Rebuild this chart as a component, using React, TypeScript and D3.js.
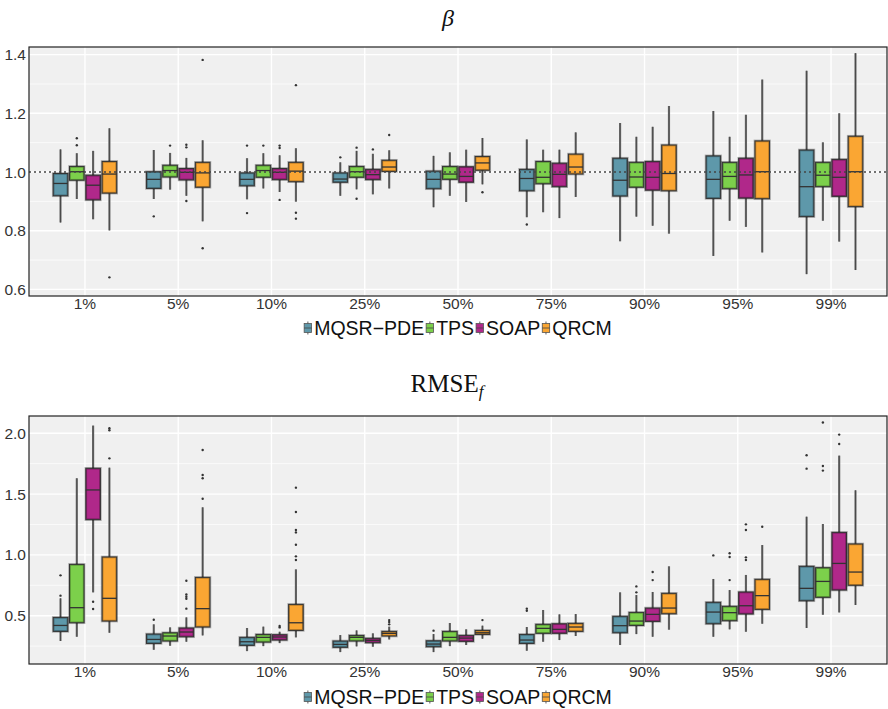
import React, { useEffect, useRef } from 'react';
import * as d3 from 'd3';

const categories = ['1%', '5%', '10%', '25%', '50%', '75%', '90%', '95%', '99%'];
const methods = ['MQSR−PDE', 'TPS', 'SOAP', 'QRCM'];
const colors = ['#5E98AA', '#7CD04B', '#B0288A', '#FAA633'];

// each entry: [lower whisker, Q1, median, Q3, upper whisker]
const betaMQSR = [
  [0.828, 0.919, 0.961, 0.995, 1.077], [0.908, 0.944, 0.975, 1.001, 1.075], [0.907, 0.953, 0.975, 0.997, 1.047],
  [0.919, 0.965, 0.976, 0.997, 1.033], [0.880, 0.943, 0.975, 1.003, 1.055], [0.846, 0.936, 0.978, 1.009, 1.111],
  [0.764, 0.918, 0.972, 1.047, 1.167], [0.714, 0.910, 0.975, 1.055, 1.208], [0.652, 0.848, 0.950, 1.075, 1.345],
];
const betaTPS = [
  [0.908, 0.972, 1.001, 1.019, 1.064], [0.940, 0.983, 1.005, 1.023, 1.065], [0.944, 0.982, 1.005, 1.023, 1.064],
  [0.941, 0.982, 1.001, 1.019, 1.072], [0.919, 0.975, 0.993, 1.019, 1.067], [0.863, 0.960, 0.982, 1.036, 1.076],
  [0.848, 0.948, 0.983, 1.033, 1.120], [0.834, 0.943, 0.985, 1.033, 1.120], [0.834, 0.950, 0.989, 1.033, 1.101],
];
const betaSOAP = [
  [0.839, 0.905, 0.955, 0.989, 1.072], [0.919, 0.973, 0.999, 1.012, 1.048], [0.932, 0.974, 0.999, 1.012, 1.057],
  [0.924, 0.974, 0.991, 1.009, 1.062], [0.898, 0.965, 0.985, 1.018, 1.076], [0.843, 0.950, 0.992, 1.030, 1.076],
  [0.817, 0.938, 0.982, 1.036, 1.154], [0.813, 0.911, 0.990, 1.047, 1.195], [0.763, 0.917, 0.982, 1.043, 1.200],
];
const betaQRCM = [
  [0.801, 0.928, 0.993, 1.036, 1.149], [0.832, 0.948, 0.997, 1.033, 1.108], [0.899, 0.967, 1.003, 1.033, 1.081],
  [0.944, 1.002, 1.017, 1.040, 1.074], [0.958, 1.006, 1.031, 1.053, 1.116], [0.915, 0.993, 1.017, 1.061, 1.135],
  [0.790, 0.936, 0.995, 1.092, 1.225], [0.726, 0.909, 1.001, 1.106, 1.315], [0.666, 0.882, 1.001, 1.122, 1.405],
];
const betaMQSROut = [[], [0.849], [1.090, 0.860], [1.050], [], [0.821], [], [], []];
const betaTPSOut = [[1.115, 1.091], [1.090], [1.090], [1.083, 0.909], [], [], [], [], []];
const betaSOAPOut = [[], [1.093, 1.084, 0.901], [1.090, 1.082, 0.905], [1.077], [], [], [], [], []];
const betaQRCMOut = [[0.641], [1.382, 0.740], [1.296, 0.861, 0.841], [1.126], [0.931], [], [], [], []];

const rmseMQSR = [
  [0.292, 0.371, 0.420, 0.486, 0.643], [0.220, 0.272, 0.305, 0.349, 0.429], [0.209, 0.256, 0.286, 0.322, 0.399],
  [0.201, 0.240, 0.264, 0.292, 0.341], [0.201, 0.245, 0.267, 0.294, 0.349], [0.212, 0.272, 0.300, 0.346, 0.407],
  [0.259, 0.360, 0.418, 0.495, 0.692], [0.327, 0.434, 0.530, 0.610, 0.802], [0.399, 0.623, 0.725, 0.906, 1.314],
];
const rmseTPS = [
  [0.327, 0.442, 0.566, 0.922, 1.630], [0.253, 0.292, 0.333, 0.360, 0.404], [0.250, 0.283, 0.322, 0.346, 0.410],
  [0.248, 0.292, 0.322, 0.338, 0.379], [0.250, 0.292, 0.322, 0.371, 0.440], [0.286, 0.355, 0.396, 0.429, 0.547],
  [0.349, 0.420, 0.456, 0.527, 0.670], [0.388, 0.459, 0.525, 0.577, 0.711], [0.508, 0.651, 0.782, 0.895, 1.254],
];
const rmseSOAP = [
  [0.692, 1.290, 1.534, 1.712, 2.063], [0.286, 0.327, 0.366, 0.399, 0.486], [0.275, 0.300, 0.325, 0.344, 0.368],
  [0.245, 0.278, 0.297, 0.314, 0.355], [0.259, 0.289, 0.316, 0.338, 0.388], [0.300, 0.355, 0.388, 0.434, 0.511],
  [0.327, 0.453, 0.511, 0.563, 0.695], [0.368, 0.514, 0.582, 0.695, 0.835], [0.527, 0.711, 0.930, 1.185, 1.816],
];
const rmseQRCM = [
  [0.360, 0.456, 0.643, 0.983, 1.717], [0.338, 0.407, 0.558, 0.815, 1.391], [0.322, 0.379, 0.442, 0.593, 0.881],
  [0.305, 0.333, 0.355, 0.371, 0.410], [0.311, 0.346, 0.360, 0.379, 0.418], [0.333, 0.371, 0.407, 0.437, 0.514],
  [0.385, 0.516, 0.563, 0.684, 0.906], [0.434, 0.552, 0.665, 0.799, 1.081], [0.588, 0.750, 0.859, 1.090, 1.531],
];
const rmseMQSROut = [[0.832, 0.665], [0.467], [], [], [0.377], [0.558, 0.541], [], [0.996], [1.819, 1.709]];
const rmseTPSOut = [[], [], [], [], [], [], [0.741, 0.692], [1.013, 0.983, 0.793], [2.088, 1.731, 1.693]];
const rmseSOAPOut = [[0.615, 0.555], [0.788, 0.675, 0.656, 0.640, 0.558], [0.415, 0.404], [], [], [], [0.859, 0.793], [1.251, 1.205, 0.980, 0.958], [1.989, 1.912]];
const rmseQRCMOut = [[2.041, 2.025, 1.794], [1.863, 1.657, 1.630, 1.462], [1.553, 1.353, 1.205, 1.185, 1.084, 0.988, 0.958], [0.464, 0.448, 0.429], [0.464], [], [], [1.232], []];

const betaMajor = [0.6, 0.8, 1.0, 1.2, 1.4];
const betaMinor = [0.7, 0.9, 1.1, 1.3];
const betaTickLabels = ['0.6', '0.8', '1.0', '1.2', '1.4'];
const rmseMajor = [0.5, 1.0, 1.5, 2.0];
const rmseMinor = [0.25, 0.75, 1.25, 1.75];
const rmseTickLabels = ['0.5', '1.0', '1.5', '2.0'];

export default function App() {
  const ref = useRef<SVGSVGElement>(null);
  useEffect(() => {
    const svg = d3.select(ref.current);
    svg.selectAll('*').remove();
    const left = 29, right = 887;
    const x = d3.scalePoint<string>().domain(categories).range([left, right]).padding(0.6);
    const dodge = 16.3, bw = 14.6;
    const sans = "'Liberation Sans', Arial, Helvetica, sans-serif";

    function panel(cfg: any) {
      const y = d3.scaleLinear().domain(cfg.domain).range([cfg.bottom, cfg.top]);
      const g = svg.append('g');
      g.append('rect').attr('x', left).attr('y', cfg.top).attr('width', right - left)
        .attr('height', cfg.bottom - cfg.top).attr('fill', '#F0F0F0');
      cfg.minor.forEach((v: number) => {
        g.append('line').attr('x1', left).attr('x2', right).attr('y1', y(v)).attr('y2', y(v))
          .attr('stroke', '#fff').attr('stroke-width', 0.7);
      });
      cfg.major.forEach((v: number) => {
        g.append('line').attr('x1', left).attr('x2', right).attr('y1', y(v)).attr('y2', y(v))
          .attr('stroke', '#fff').attr('stroke-width', 1.4);
      });
      categories.forEach(c => {
        g.append('line').attr('x1', x(c)!).attr('x2', x(c)!).attr('y1', cfg.top).attr('y2', cfg.bottom)
          .attr('stroke', '#fff').attr('stroke-width', 1.4);
      });
      cfg.stats.forEach((series: number[][], m: number) => {
        series.forEach((s, i) => {
          const cx = x(categories[i])! + (m - 1.5) * dodge;
          g.append('line').attr('x1', cx).attr('x2', cx).attr('y1', y(s[0])).attr('y2', y(s[4]))
            .attr('stroke', '#777').attr('stroke-width', 2.2);
          g.append('line').attr('x1', cx).attr('x2', cx).attr('y1', y(s[0])).attr('y2', y(s[4]))
            .attr('stroke', '#444').attr('stroke-width', 0.9);
          g.append('rect').attr('x', cx - bw / 2).attr('y', y(s[3])).attr('width', bw)
            .attr('height', y(s[1]) - y(s[3])).attr('fill', colors[m])
            .attr('stroke', 'rgba(0,0,0,0.28)').attr('stroke-width', 2.6);
          g.append('rect').attr('x', cx - bw / 2).attr('y', y(s[3])).attr('width', bw)
            .attr('height', y(s[1]) - y(s[3])).attr('fill', 'none')
            .attr('stroke', '#333').attr('stroke-width', 1);
          g.append('line').attr('x1', cx - bw / 2).attr('x2', cx + bw / 2).attr('y1', y(s[2])).attr('y2', y(s[2]))
            .attr('stroke', '#333').attr('stroke-width', 1.3);
          (cfg.outs[m][i] as number[]).forEach(o => {
            g.append('circle').attr('cx', cx).attr('cy', y(o)).attr('r', 1.2).attr('fill', '#333');
          });
        });
      });
      if (cfg.refLine) {
        g.append('line').attr('x1', left).attr('x2', right).attr('y1', y(1)).attr('y2', y(1))
          .attr('stroke', '#444').attr('stroke-width', 1.3).attr('stroke-dasharray', '2,3');
      }
      g.append('rect').attr('x', left).attr('y', cfg.top).attr('width', right - left)
        .attr('height', cfg.bottom - cfg.top).attr('fill', 'none').attr('stroke', '#222').attr('stroke-width', 1.2);
      cfg.major.forEach((v: number, k: number) => {
        g.append('text').attr('x', left - 3).attr('y', y(v) + 5.5).attr('text-anchor', 'end')
          .attr('font-family', sans).attr('font-size', 15.5).attr('fill', '#333').text(cfg.tickLabels[k]);
      });
      categories.forEach(c => {
        g.append('text').attr('x', x(c)!).attr('y', cfg.bottom + 13).attr('text-anchor', 'middle')
          .attr('font-family', sans).attr('font-size', 15.5).attr('fill', '#333').text(c);
      });
      // legend
      const lg = g.append('g');
      let cur = 0;
      methods.forEach((name, m) => {
        const it = lg.append('g');
        const t = it.append('text').attr('x', cur + 10).attr('y', cfg.legendY + 7).attr('font-family', sans)
          .attr('font-size', 19.5).attr('fill', '#111').text(name);
        const kx = cur + 3.7;
        it.append('line').attr('x1', kx).attr('x2', kx).attr('y1', cfg.legendY - 6.5).attr('y2', cfg.legendY + 6.5)
          .attr('stroke', '#777').attr('stroke-width', 1.2);
        it.append('rect').attr('x', kx - 3.7).attr('y', cfg.legendY - 4.5).attr('width', 7.4).attr('height', 9)
          .attr('fill', colors[m]).attr('stroke', '#555').attr('stroke-width', 0.8);
        it.append('line').attr('x1', kx - 3.7).attr('x2', kx + 3.7).attr('y1', cfg.legendY).attr('y2', cfg.legendY)
          .attr('stroke', '#444').attr('stroke-width', 0.8);
        const w = (t.node() as SVGTextElement).getComputedTextLength();
        cur += 10 + w + 2;
      });
      const total = cur - 2;
      lg.attr('transform', `translate(${(left + right) / 2 - total / 2},0)`);
    }

    panel({
      domain: [0.5775, 1.426], top: 47, bottom: 296, major: betaMajor, minor: betaMinor, tickLabels: betaTickLabels,
      stats: [betaMQSR, betaTPS, betaSOAP, betaQRCM], outs: [betaMQSROut, betaTPSOut, betaSOAPOut, betaQRCMOut],
      refLine: true, legendY: 328,
    });
    panel({
      domain: [0.103, 2.142], top: 416, bottom: 664, major: rmseMajor, minor: rmseMinor, tickLabels: rmseTickLabels,
      stats: [rmseMQSR, rmseTPS, rmseSOAP, rmseQRCM], outs: [rmseMQSROut, rmseTPSOut, rmseSOAPOut, rmseQRCMOut],
      refLine: false, legendY: 697,
    });

    const serif = "'Liberation Serif', 'DejaVu Serif', serif";
    svg.append('text').attr('x', 448).attr('y', 26).attr('text-anchor', 'middle').attr('font-family', serif)
      .attr('font-style', 'italic').attr('font-size', 24).attr('fill', '#111').text('β');
    const t2 = svg.append('text').attr('x', 447).attr('y', 392).attr('text-anchor', 'middle')
      .attr('font-family', serif).attr('font-size', 25).attr('fill', '#111');
    t2.append('tspan').text('RMSE');
    t2.append('tspan').attr('font-style', 'italic').attr('font-size', 17).attr('dy', 5).text('f');
  }, []);
  return (
    <svg ref={ref} width={888} height={709}
      style={{ position: 'absolute', left: 0, top: 0, background: '#fff' }} />
  );
}
